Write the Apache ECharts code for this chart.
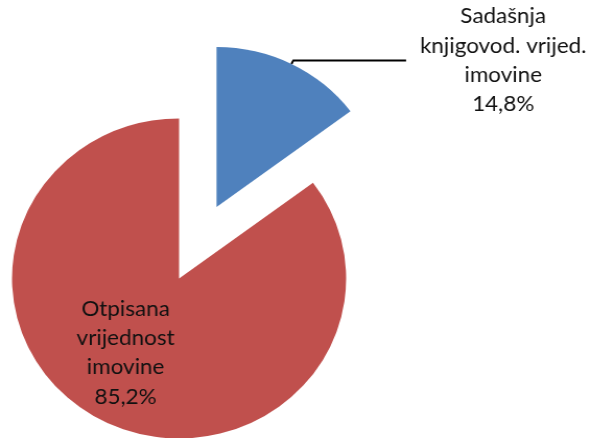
<!DOCTYPE html>
<html>
<head>
<meta charset="utf-8">
<script src="https://cdn.jsdelivr.net/npm/echarts@6/dist/echarts.min.js"></script>
<style>
html, body { margin: 0; padding: 0; background: #fff; overflow: hidden; }
/* original picture is slightly stretched horizontally */
#chart { width: 566px; height: 438px; transform: scaleX(1.0442); transform-origin: 0 0; }
</style>
</head>
<body>
<div id="chart"></div>
<script>
// udjeli imovine (%)
var names = ['Sadašnja\nknjigovod. vrijed.\nimovine', 'Otpisana\nvrijednost\nimovine']
var values = [14.8, 85.2]
var colors = ['#4F81BD', '#C0504D']

var fmt = function (v) {
  return v.toFixed(1).replace('.', ',') + '%'
}

var data = names.map(function (n, i) {
  var item = { name: n, value: values[i], itemStyle: { color: colors[i] } }
  if (i === 0) {
    // izdvojeni isječak s vanjskom oznakom
    item.selected = true
    item.label = {
      position: 'outside',
      width: 176,
      formatter: function (p) {
        return p.name.split('\n').concat(fmt(p.value)).map(function (s) {
          return '{c|' + s + '}'
        }).join('\n')
      },
      rich: {
        c: { align: 'center', fontFamily: 'Lato', fontSize: 21.5, lineHeight: 29.3, color: '#111' }
      }
    }
    item.labelLine = { show: true, length: 4, length2: 108, lineStyle: { color: '#000', width: 2 } }
  } else {
    item.label = {
      position: 'inside',
      offset: [-14, 0],
      formatter: function (p) { return p.name + '\n' + fmt(p.value) }
    }
  }
  return item
})

var myChart = echarts.init(document.getElementById('chart'))
var option = {
  animation: false,
  series: [
    {
      type: 'pie',
      center: [171.5, 278.5],
      radius: 160,
      startAngle: 90,
      clockwise: true,
      selectedMode: 'single',
      selectedOffset: 80,
      avoidLabelOverlap: false,
      emphasis: { scale: false },
      label: {
        color: '#111',
        fontFamily: 'Lato',
        fontSize: 21.5,
        lineHeight: 29.3,
        overflow: 'none',
        bleedMargin: 0,
        distanceToLabelLine: 5
      },
      data: data
    }
  ]
}
myChart.setOption(option, true)
</script>
</body>
</html>
